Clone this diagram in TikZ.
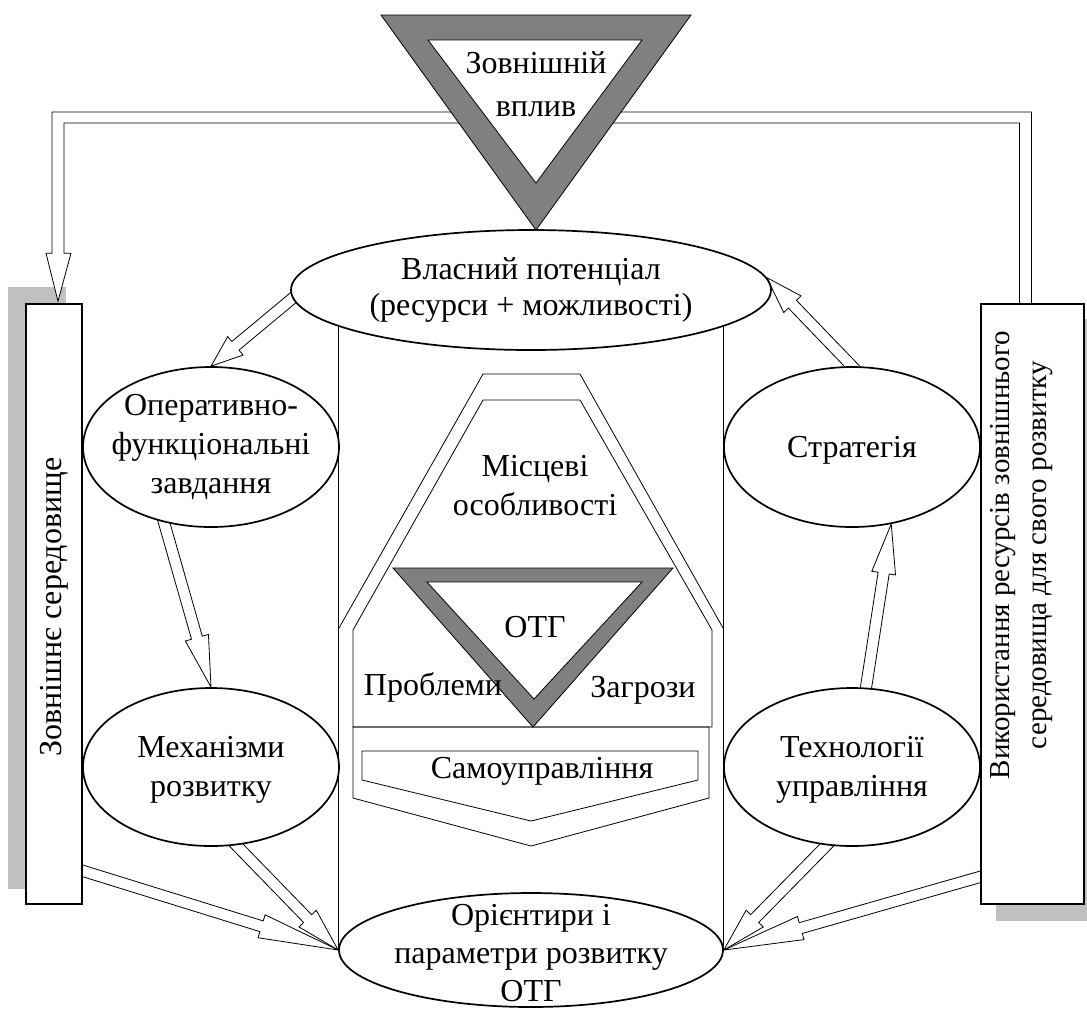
\documentclass[tikz,border=0pt]{standalone}
\usepackage{fontspec}
\setmainfont{Liberation Serif}
\usetikzlibrary{calc,shapes.geometric}
\pgfdeclarelayer{bg}
\pgfsetlayers{bg,main}
\definecolor{trigray}{RGB}{128,128,128}
\definecolor{shadegray}{RGB}{192,192,192}
\tikzset{
  every node/.style={font=\fontsize{16pt}{19.5pt}\selectfont},
  oval/.style={ellipse, draw, fill=white, inner sep=0pt},
  panel/.style={draw, fill=white, inner sep=0pt},
  txt/.style={align=center, inner sep=0pt},
  shade/.style={fill=shadegray},
  blockline/.style={draw, fill=white, line join=miter},
}
% порожниста стрілка: хвіст, вістря
\newcommand{\blockarrow}[2]{%
  \coordinate (ba-c) at ($(#2)!0.3!(#1)$);
  \coordinate (ba-t) at ($(#1)!-4pt!(#2)$);
  \draw[blockline] ($(ba-t)!2.8pt!90:(#2)$) -- ($(ba-c)!2.8pt!90:(#2)$)
    -- ($(ba-c)!6pt!90:(#2)$) -- (#2) -- ($(ba-c)!6pt!-90:(#2)$)
    -- ($(ba-c)!2.8pt!-90:(#2)$) -- ($(ba-t)!2.8pt!-90:(#2)$) -- cycle;
}
\begin{document}
\begin{tikzpicture}[x=0.5pt, y=-0.5pt, line width=0.85pt]
  \useasboundingbox (0,0) rectangle (1087,1009);

  % бічні блоки
  \node[panel, minimum width=28pt, minimum height=300pt] (env) at (54,604) {};
  \node[panel, minimum width=51.5pt, minimum height=300pt] (use) at (1032.5,604) {};

  % овали
  \node[oval, minimum width=240pt, minimum height=60pt] (own) at (531,290) {};
  \node[oval, minimum width=128pt, minimum height=80pt] (opt) at (211,447) {};
  \node[oval, minimum width=128pt, minimum height=79pt] (mech) at (211,767) {};
  \node[oval, minimum width=128pt, minimum height=80pt] (strat) at (852,447) {};
  \node[oval, minimum width=128pt, minimum height=79pt] (tech) at (852,767) {};
  \node[oval, minimum width=192pt, minimum height=57pt] (goal) at (531,950) {};

  \begin{pgfonlayer}{bg}
    % тіні
    \fill[shade] ($(env.north west)+(-17,-16)$) rectangle ($(env.south east)+(-17,-16)$);
    \fill[shade] ($(use.north west)+(16,16)$) rectangle ($(use.south east)+(16,16)$);
    % вертикальні лінії
    \draw (goal.west) -- (goal.west |- own.center);
    \draw (goal.east) -- (goal.east |- own.center);
    % верхній зв'язок
    \coordinate (pr) at ($(use.north)+(-7,0)$);
    \coordinate (pl) at ($(env.north)+(4,-2)$);
    \coordinate (ptop) at (536,117.5);
    \draw[blockline] ($(pr)+(-6,0)$) -- ($(pr |- ptop)+(-6,5.5)$)
      -- ($(pl |- ptop)+(6,5.5)$) -- ($(pl)+(6,-48)$) -- ($(pl)+(13,-48)$)
      -- (pl) -- ($(pl)+(-12,-48)$) -- ($(pl)+(-6,-48)$)
      -- ($(pl |- ptop)+(-6,-5.5)$) -- ($(pr |- ptop)+(6,-5.5)$) -- ($(pr)+(6,0)$);
    % стрілки
    \coordinate (envout) at ($(env.south east)+(0,-34)$);
    \coordinate (useout) at ($(use.south west)+(0,-28)$);
    \blockarrow{own.182}{opt.north}
    \blockarrow{opt.238}{mech.north}
    \blockarrow{tech.80}{strat.297}
    \blockarrow{strat.north}{own.3}
    \blockarrow{envout}{goal.west}
    \blockarrow{mech.288}{goal.west}
    \blockarrow{tech.252}{goal.east}
    \blockarrow{useout}{goal.east}
  \end{pgfonlayer}

  % зовнішній вплив
  \draw[fill=trigray] (381,15) -- (691,15) -- (536,230) -- cycle;
  \draw[fill=white] (428,40) -- (642,40) -- (536,183) -- cycle;

  % центральна частина
  \draw (339,628) -- (483,374) -- (580,374) -- (723,628);
  \draw[fill=white] (353,630) -- (483,400) -- (580,400) -- (712,630)
    -- (712,727) -- (353,727) -- cycle;
  \draw (353,727) -- (709,727) -- (709,798) -- (531,846) -- (353,798) -- cycle;
  \draw (362,751) -- (698,751) -- (698,780) -- (531,821) -- (362,780) -- cycle;
  \draw[fill=trigray] (393,568) -- (673,568) -- (533,727) -- cycle;
  \draw[fill=white] (427,582) -- (642,582) -- (534,699) -- cycle;

  % написи
  \node[txt, font=\fontsize{16pt}{21.5pt}\selectfont] (ext-t) at (536,84) {Зовнішній\\вплив};
  \node[txt, font=\fontsize{16pt}{18pt}\selectfont] (own-t) at (own) {Власний потенціал\\(ресурси + можливості)};
  \node[txt] (opt-t) at (opt) {Оперативно-\\функціональні\\завдання};
  \node[txt] (mech-t) at (211,770) {Механізми\\розвитку};
  \node[txt] (strat-t) at (852,450) {Стратегія};
  \node[txt] (tech-t) at (852,770) {Технології\\управління};
  \node[txt, font=\fontsize{16pt}{19pt}\selectfont] (goal-t) at (531,953) {Орієнтири і\\параметри розвитку\\ОТГ};
  \node[txt] (loc-t) at (535,486) {Місцеві\\особливості};
  \node[txt] (otg-t) at (535,627) {ОТГ};
  \node[txt] (prob-t) at (433,687) {Проблеми};
  \node[txt] (risk-t) at (643,690) {Загрози};
  \node[txt] (self-t) at (542,771) {Самоуправління};
  \node[txt, rotate=90] (env-t) at (54,607) {Зовнішнє середовище};
  \node[txt, rotate=90, font=\fontsize{14.5pt}{18.5pt}\selectfont] (use-t) at (1022,555)
    {Використання ресурсів зовнішнього\\середовища для свого розвитку};
\end{tikzpicture}
\end{document}
